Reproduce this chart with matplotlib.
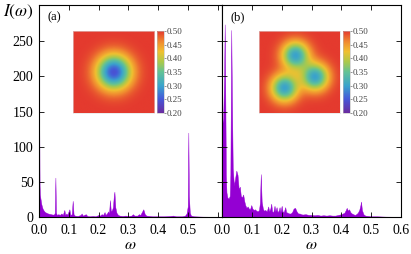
import numpy as np
import matplotlib
matplotlib.use("Agg")
import matplotlib.pyplot as plt
from matplotlib.colors import LinearSegmentedColormap

plt.rcParams['font.family'] = ['Liberation Serif', 'DejaVu Serif']
plt.rcParams['mathtext.fontset'] = 'stix'

# ---------------- data ----------------
omega_a = [0.000, 0.001, 0.002, 0.003, 0.005, 0.008, 0.012, 0.016, 0.020, 0.025,
           0.030, 0.035, 0.040, 0.045, 0.050, 0.053, 0.055, 0.057, 0.060, 0.065,
           0.070, 0.075, 0.080, 0.085, 0.088, 0.092, 0.095, 0.100, 0.102, 0.105,
           0.110, 0.113, 0.116, 0.120, 0.130, 0.140, 0.143, 0.147, 0.152, 0.157,
           0.162, 0.170, 0.180, 0.190, 0.200, 0.205, 0.210, 0.215, 0.220, 0.223,
           0.228, 0.232, 0.235, 0.238, 0.241, 0.245, 0.248, 0.251, 0.253, 0.256,
           0.260, 0.265, 0.270, 0.280, 0.290, 0.300, 0.310, 0.315, 0.320, 0.330,
           0.335, 0.340, 0.345, 0.350, 0.355, 0.360, 0.370, 0.380, 0.400, 0.420,
           0.440, 0.450, 0.460, 0.480, 0.490, 0.495, 0.499, 0.501, 0.503, 0.506,
           0.510, 0.520, 0.550, 0.600, 0.614]
I_a = [255, 120, 45, 32, 26, 18, 12, 9, 7, 6,
       5, 4.5, 4, 3.5, 3.5, 6, 56, 6, 3, 4,
       3, 5, 3, 10, 3, 5, 3, 9, 11, 3,
       4, 23, 4, 2, 1.5, 3, 5, 2, 3, 4,
       1.5, 1, 1.5, 1, 3, 2, 4, 3, 7, 3,
       5, 8, 5, 24, 8, 10, 14, 30, 36, 14,
       6, 3, 2, 1.5, 2, 1.5, 2, 4, 2, 2,
       4, 3, 7, 11, 4, 2, 1.5, 1, 1, 1,
       1.5, 2, 1, 1, 2, 5, 15, 120, 30, 6,
       2, 1, 0.5, 0.3, 0.3]

omega_b = [0.000, 0.004, 0.007, 0.009, 0.011, 0.013, 0.015, 0.018, 0.022, 0.026,
           0.028, 0.030, 0.031, 0.033, 0.036, 0.040, 0.044, 0.048, 0.052, 0.056,
           0.060, 0.063, 0.067, 0.071, 0.075, 0.078, 0.082, 0.086, 0.090, 0.094,
           0.098, 0.102, 0.106, 0.110, 0.115, 0.120, 0.124, 0.127, 0.130, 0.133,
           0.137, 0.140, 0.145, 0.150, 0.155, 0.158, 0.162, 0.165, 0.168, 0.172,
           0.176, 0.179, 0.183, 0.186, 0.190, 0.193, 0.196, 0.200, 0.203, 0.207,
           0.212, 0.215, 0.220, 0.225, 0.230, 0.235, 0.240, 0.245, 0.250, 0.255,
           0.260, 0.265, 0.270, 0.280, 0.290, 0.300, 0.310, 0.320, 0.330, 0.340,
           0.350, 0.360, 0.370, 0.380, 0.390, 0.400, 0.410, 0.415, 0.418, 0.422,
           0.426, 0.430, 0.435, 0.440, 0.445, 0.450, 0.455, 0.460, 0.464, 0.466,
           0.469, 0.474, 0.480, 0.490, 0.500, 0.520, 0.550, 0.600]
I_b = [130, 140, 200, 274, 180, 60, 35, 28, 26, 30,
       60, 200, 266, 180, 70, 45, 55, 66, 60, 40,
       43, 30, 28, 32, 22, 17, 13, 15, 12, 11,
       17, 12, 10, 11, 9, 8, 10, 20, 61, 22,
       12, 9, 10, 8, 15, 8, 12, 19, 8, 7,
       16, 8, 14, 7, 9, 14, 7, 16, 8, 7,
       14, 7, 6, 5, 5, 7, 12, 13, 8, 5,
       5, 4, 3.5, 4, 3, 3, 2.5, 3, 2, 2.5,
       2, 2.5, 2, 2, 3, 4, 6, 10, 13, 9,
       11, 7, 5, 4, 3, 4, 6, 10, 17, 22,
       10, 4, 2, 1.5, 1, 1, 0.5, 0.3]

x_ticks = [0.0, 0.1, 0.2, 0.3, 0.4, 0.5, 0.6]
x_labels_a = ['0.0', '0.1', '0.2', '0.3', '0.4', '0.5', '']
x_labels_b = ['0.0', '0.1', '0.2', '0.3', '0.4', '0.5', '0.6']
y_ticks = [0, 50, 100, 150, 200, 250]
cbar_ticks = [0.20, 0.25, 0.30, 0.35, 0.40, 0.45, 0.50]

# inset fields: background level, dip depth, width, dip centres
bg_level = 0.5
dip_a_centre = [(0.0, 0.0)]
dip_a_depth = 0.255
dip_a_sigma = 0.29
dip_b_centres = [(-0.10, -0.41), (0.39, 0.12), (-0.37, 0.39)]
dip_b_depth = 0.20
dip_b_sigma = 0.23

purple = '#9400d3'
W, H = 411, 254

cmap = LinearSegmentedColormap.from_list('pal', [
    (0.0, '#6a2b9f'), (0.17, '#4658d8'), (0.33, '#3aa3cc'), (0.5, '#62c296'),
    (0.62, '#a9c94c'), (0.75, '#f0c030'), (0.87, '#f08a30'), (1.0, '#e43a2e')])

fig = plt.figure(figsize=(W / 100, H / 100), dpi=100)

def px_axes(x0, y0, x1, y1):
    return fig.add_axes([x0 / W, 1 - y1 / H, (x1 - x0) / W, (y1 - y0) / H])

axA = px_axes(39, 4.7, 222, 217)
axB = px_axes(222, 4.7, 401, 217)

for ax, om, I, xl, xlim, lab in [(axA, omega_a, I_a, x_labels_a, 0.614, '(a)'),
                                  (axB, omega_b, I_b, x_labels_b, 0.6, '(b)')]:
    ax.fill_between(om, I, 0, color=purple, lw=0.3, edgecolor=purple)
    ax.set_xlim(0, xlim)
    ax.set_ylim(0, 302)
    ax.set_xticks(x_ticks)
    ax.set_xticklabels(xl)
    ax.set_yticks(y_ticks)
    ax.tick_params(direction='in', top=True, right=True, length=3.5, width=0.6,
                   labelsize=10, pad=4)
    ax.tick_params(axis='x', pad=5)
    for s in ax.spines.values():
        s.set_linewidth(0.8)
    ax.set_xlabel(r'$\omega$', fontsize=11.5, labelpad=0)
    ax.text(0.045, 0.94, lab, transform=ax.transAxes,
            fontsize=9, va='center', ha='left')

axB.set_yticklabels([])
axB.spines['left'].set_zorder(5)

fig.text(3 / W, 1 - 12 / H, r'$I(\omega)$', fontsize=12.5, va='center', ha='left')

N = 120
g = np.linspace(-1, 1, N)
X, Y = np.meshgrid(g, g)

def field(centres, depth, sigma):
    f = np.full_like(X, bg_level)
    for (cx, cy) in centres:
        f -= depth * np.exp(-((X - cx) ** 2 + (Y - cy) ** 2) / (2 * sigma ** 2))
    return np.clip(f, 0.2, 0.5)

for (ix0, cx0), fld in [((73, 157), field(dip_a_centre, dip_a_depth, dip_a_sigma)),
                        ((259, 343), field(dip_b_centres, dip_b_depth, dip_b_sigma))]:
    axi = px_axes(ix0, 31, ix0 + 81, 113)
    im = axi.imshow(fld, cmap=cmap, vmin=0.2, vmax=0.5, aspect='auto',
                    interpolation='bilinear', origin='upper')
    axi.set_xticks([]); axi.set_yticks([])
    for s in axi.spines.values():
        s.set_linewidth(0.4); s.set_color('#dddddd')
    cax = px_axes(cx0, 31, cx0 + 7, 113)
    cb = fig.colorbar(im, cax=cax, ticks=cbar_ticks, format='%.2f')
    cb.outline.set_linewidth(0.4)
    cb.outline.set_edgecolor('#bbbbbb')
    cax.tick_params(labelsize=6.5, length=1.2, width=0.4, pad=1, colors='#444444')

fig.savefig('out.png', dpi=100)
